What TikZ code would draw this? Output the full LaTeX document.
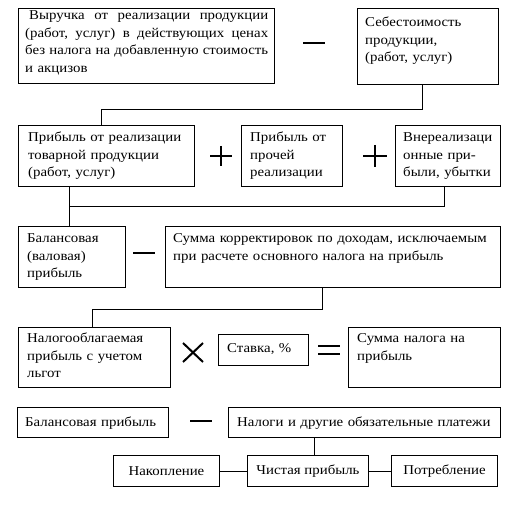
\documentclass[tikz,border=0pt]{standalone}
\usepackage{fontspec}
\setmainfont{Liberation Serif}[FakeStretch=1.1]
\begin{document}
\begin{tikzpicture}[x=1pt,y=-1pt,
  box/.style={draw, line width=1pt, inner sep=0pt, anchor=north west},
  txt/.style={inner sep=0pt, anchor=base west, text width=360pt, align=left,
    font=\fontsize{13.5}{17.5}\selectfont},
  ctxt/.style={font=\fontsize{13.5}{17.5}\selectfont},
  link/.style={line width=1pt},
  op/.style={line width=2pt}]
\useasboundingbox[fill=white] (0,0) rectangle (520,505);

% boxes
\node[box, minimum width=256pt, minimum height=75pt] (b1) at (18,8) {};
\node[box, minimum width=141pt, minimum height=76pt] (b2) at (357,8) {};
\node[box, minimum width=176pt, minimum height=61pt] (b3) at (18,125) {};
\node[box, minimum width=101pt, minimum height=61pt] (b4) at (241,125) {};
\node[box, minimum width=105pt, minimum height=61pt] (b5) at (395,125) {};
\node[box, minimum width=107pt, minimum height=61pt] (b6) at (18,226) {};
\node[box, minimum width=335pt, minimum height=61pt] (b7) at (165,226) {};
\node[box, minimum width=152pt, minimum height=60pt] (b8) at (18,327) {};
\node[box, minimum width=90pt, minimum height=31pt] (b9) at (218,334) {};
\node[box, minimum width=152pt, minimum height=60pt] (b10) at (348,327) {};
\node[box, minimum width=151pt, minimum height=30pt] (b11) at (17,407) {};
\node[box, minimum width=272pt, minimum height=30pt] (b12) at (228,407) {};
\node[box, ctxt, minimum width=106pt, minimum height=31pt] (b13) at (113,455) {Накопление};
\node[box, ctxt, minimum width=121pt, minimum height=31pt] (b14) at (247,455) {Чистая прибыль};
\node[box, ctxt, minimum width=106pt, minimum height=31pt] (b15) at (391,455) {Потребление};

% texts
\node[txt] (t1) at (25,20) {\hspace*{4pt}\makebox[239pt][s]{Выручка\hfill от\hfill реализации\hfill продукции}\\
  \makebox[243pt][s]{(работ,\hfill услуг)\hfill в\hfill действующих\hfill ценах}\\
  \makebox[243pt][s]{без\hfill налога\hfill на\hfill добавленную\hfill стоимость}\\
  и акцизов};
\node[txt] (t2) at (365,27) {Себестоимость\\продукции,\\(работ, услуг)};
\node[txt] (t3) at (28,142) {Прибыль от реализации\\товарной продукции\\(работ, услуг)};
\node[txt] (t4) at (250,142) {Прибыль от\\прочей\\реализации};
\node[txt] (t5) at (403,142) {Внереализаци\\онные при-\\были, убытки};
\node[txt] (t6) at (27,243) {Балансовая\\(валовая)\\прибыль};
\node[txt] (t7) at (173,243) {Сумма корректировок по доходам, исключаемым\\при расчете основного налога на прибыль};
\node[txt] (t8) at (27,343) {Налогооблагаемая\\прибыль с учетом\\льгот};
\node[txt] (t9) at (227,353) {Ставка, \%};
\node[txt] (t10) at (357,343) {Сумма налога на\\прибыль};
\node[txt] (t11) at (25,426) {Балансовая прибыль};
\node[txt] (t12) at (237,426) {Налоги и другие обязательные платежи};

% connectors
\draw[link] ([xshift=-5.5pt]b2.south) -- ++(0,25) -| ([xshift=-5pt]b3.north);
\coordinate (j1) at (69,207);
\draw[link] ([xshift=51pt]b3.south west) -- ([xshift=51pt]b6.north west);
\draw[link] ([xshift=-3.5pt]b5.south) |- (j1);
\draw[link] ([xshift=-10.5pt]b7.south) -- ++(0,22) -| ([xshift=-2pt]b8.north);
\draw[link] ([xshift=6.5pt]b14.north) -- ++(0,-18);
\draw[link] (b13.east) -- (b14.west);
\draw[link] (b14.east) -- (b15.west);

% operators
\draw[op] (303,43) -- (325,43);
\draw[op] (210,156) -- (232,156) (221,146) -- (221,166);
\draw[op] (363,156) -- (387,156) (375,145) -- (375,167);
\draw[op] (133,253) -- (155,253);
\draw[op] (183,343) -- (203,362) (183,362) -- (203,343);
\draw[op] (318,346) -- (340,346) (318,354) -- (340,354);
\draw[op] (190,421) -- (212,421);
\end{tikzpicture}
\end{document}
